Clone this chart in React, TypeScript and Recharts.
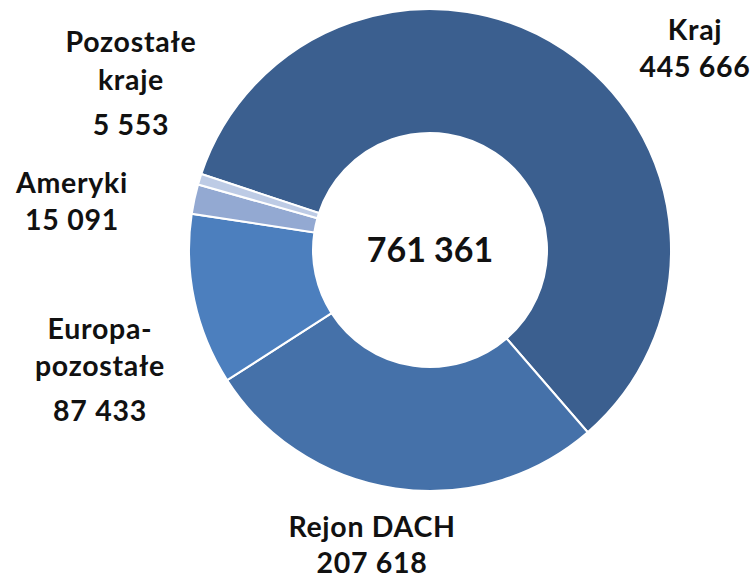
import {PieChart, Pie, Cell} from "recharts"

const regions = ["Kraj", "Rejon DACH", "Europa-pozostałe", "Ameryki", "Pozostałe kraje"]
const visitors = [445666, 207618, 87433, 15091, 5553]
const colors = ["#3b5f8f", "#4571a9", "#4c7fbe", "#93a9d2", "#bdcbe5"]
const labelLines = [
    ["Kraj", "445 666"],
    ["Rejon DACH", "207 618"],
    ["Europa-", "pozostałe", "87 433"],
    ["Ameryki", "15 091"],
    ["Pozostałe", "kraje", "5 553"],
]
const totalText = "761 361"

// where each label sits: x centre, baselines
const labelLayout = [
    {x: 695, ys: [40, 77]},
    {x: 372, ys: [537, 573]},
    {x: 100, ys: [339, 376, 421]},
    {x: 72, ys: [193, 230]},
    {x: 131, ys: [52, 90, 135]},
]

const FONT = "Lato, 'Open Sans', sans-serif"

export default function App() {
    const data = regions.map((name, i) => ({name, value: visitors[i]}))
    const start = 161.6

    const renderLabel = ({index}: {index: number}) => {
        const pos = labelLayout[index]
        return (
            <text key={index} textAnchor="middle" fontFamily={FONT} fontWeight={700} fontSize={28.5}
                  letterSpacing={0.7} fill="#111">
                {labelLines[index].map((t, j) => (
                    <tspan key={j} x={pos.x} y={pos.ys[j]}>{t}</tspan>
                ))}
            </text>
        )
    }

    return (
        <div style={{position: "absolute", left: 0, top: 0, background: "#fff"}}>
            <PieChart width={753} height={579} margin={{top: 0, right: 0, bottom: 0, left: 0}}>
                <Pie
                    data={data}
                    dataKey="value"
                    nameKey="name"
                    cx={430}
                    cy={250}
                    innerRadius={117}
                    outerRadius={241}
                    startAngle={start}
                    endAngle={start - 360}
                    stroke="#ffffff"
                    strokeWidth={2}
                    label={renderLabel}
                    labelLine={false}
                    isAnimationActive={false}
                >
                    {data.map((_, i) => (
                        <Cell key={i} fill={colors[i]} />
                    ))}
                </Pie>
                <text x={430} y={262} textAnchor="middle" fontFamily={FONT} fontWeight={700} fontSize={34} fill="#111">
                    {totalText}
                </text>
            </PieChart>
        </div>
    )
}
